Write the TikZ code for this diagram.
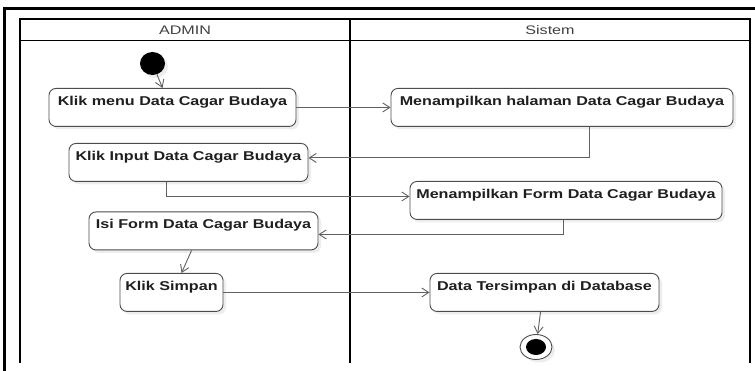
\documentclass[tikz,border=0pt]{standalone}
\usepackage{fontspec}
\setmainfont{Liberation Sans}
\newfontfamily\lanefont{Liberation Sans}[FakeStretch=1.3]
\newfontfamily\actfont{Liberation Sans}[FakeStretch=1.26]
\usetikzlibrary{arrows.meta,shadows,calc,shapes.geometric}

\tikzset{
  frameline/.style={line width=3pt, black},
  laneline/.style={line width=1.8pt, black},
  lanetitle/.style={font=\lanefont\fontsize{12.4}{14}\selectfont, text=black!75, inner sep=0pt},
  softshadow/.style={drop shadow={shadow xshift=3pt, shadow yshift=-3pt, fill=black!14}},
  act/.style={draw=black!70, line width=0.9pt, rounded corners=7pt, fill=white,
    anchor=north, inner xsep=0pt, inner ysep=7.5pt, minimum height=38pt,
    text height=9.5pt, text depth=13.5pt, align=center,
    font=\actfont\bfseries\fontsize{12.8}{14}\selectfont, text=black!88, softshadow},
  flow/.style={draw=black!62, line width=0.9pt, -{Straight Barb[length=7pt,width=9pt]}},
}

\begin{document}
\begin{tikzpicture}[x=1pt,y=-1pt]
  \useasboundingbox (0,0) rectangle (755,371);

  % outer frame
  \draw[frameline] (4,371) -- (4,8.5) -- (755,8.5);

  % swimlanes
  \draw[laneline] (20,363) -- (20,19) -- (750,19) -- (750,363);
  \draw[laneline] (350,19) -- (350,363);
  \draw[laneline] (20,40.5) -- (750,40.5);
  \node[lanetitle] (hadmin) at (185,30) {ADMIN};
  \node[lanetitle] (hsistem) at (550,30) {Sistem};

  % initial node
  \node[ellipse, fill=black, inner sep=0pt, minimum width=25pt, minimum height=23pt, softshadow] (start) at (152.5,63.5) {};

  % activities
  \node[act, minimum width=247pt] (a1) at (172.5,88) {Klik menu Data Cagar Budaya};
  \node[act, minimum width=342pt] (a2) at (562,88) {Menampilkan halaman Data Cagar Budaya};
  \node[act, minimum width=239pt] (a3) at (188.5,143) {Klik Input Data Cagar Budaya};
  \node[act, minimum width=312pt] (a4) at (566,181) {Menampilkan Form Data Cagar Budaya};
  \node[act, minimum width=229pt] (a5) at (203.5,211.5) {Isi Form Data Cagar Budaya};
  \node[act, minimum width=103pt] (a6) at (171.5,273) {Klik Simpan};
  \node[act, minimum width=229pt] (a7) at (544.5,273) {Data Tersimpan di Database};

  % final node
  \node[ellipse, draw=black!70, line width=0.9pt, fill=white, inner sep=0pt, minimum width=32pt, minimum height=25pt, softshadow] (end) at (536,347) {};
  \node[ellipse, fill=black, inner sep=0pt, minimum width=20pt, minimum height=16pt] (endcore) at (end) {};

  % control flows
  \draw[flow] (start) -- ($(a1.north west)+(114,0)$);
  \draw[flow] (a1.east) -- (a2.west);
  \draw[flow] ($(a2.south west)+(199,0)$) |- ($(a3.east)+(0,-4.5)$);
  \draw[flow] ($(a3.south west)+(98,0)$) |- ($(a4.west)+(0,-4)$);
  \draw[flow] ($(a4.south west)+(154,0)$) |- ($(a5.east)+(0,3.5)$);
  \draw[flow] ($(a5.south west)+(103,0)$) -- ($(a6.north west)+(62,0)$);
  \draw[flow] (a6.east) -- (a7.west);
  \draw[flow] ($(a7.south west)+(111,0)$) -- (end);
\end{tikzpicture}
\end{document}
